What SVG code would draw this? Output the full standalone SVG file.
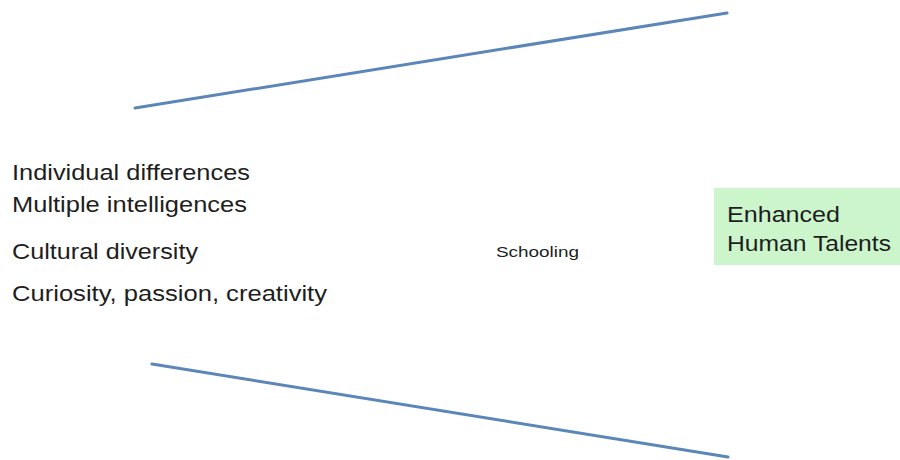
<svg xmlns="http://www.w3.org/2000/svg" width="900" height="460" viewBox="0 0 900 460">
  <style>
    .lbl { font-family: "Liberation Sans", Arial, sans-serif; font-size: 22px; fill: #1e1e1e; }
    .small { font-family: "Liberation Sans", Arial, sans-serif; font-size: 15px; fill: #1e1e1e; }
    .edge { stroke: #5d86b8; stroke-width: 3; stroke-linecap: round; fill: none; }
  </style>
  <rect width="900" height="460" fill="#ffffff"/>
  <g id="connectors">
    <line class="edge" x1="135" y1="108" x2="727" y2="13"/>
    <line class="edge" x1="152" y1="364" x2="728" y2="457"/>
  </g>
  <g id="inputs">
    <text class="lbl" x="12" y="180" textLength="238" lengthAdjust="spacingAndGlyphs">Individual differences</text>
    <text class="lbl" x="12" y="212" textLength="235" lengthAdjust="spacingAndGlyphs">Multiple intelligences</text>
    <text class="lbl" x="12" y="259" textLength="186" lengthAdjust="spacingAndGlyphs">Cultural diversity</text>
    <text class="lbl" x="12" y="301" textLength="315" lengthAdjust="spacingAndGlyphs">Curiosity, passion, creativity</text>
  </g>
  <g id="schooling">
    <text class="small" x="496" y="257" textLength="83" lengthAdjust="spacingAndGlyphs">Schooling</text>
  </g>
  <g id="outcome">
    <rect x="714" y="188" width="186" height="77" fill="#ccf5cc"/>
    <text class="lbl" x="727" y="222" textLength="113" lengthAdjust="spacingAndGlyphs">Enhanced</text>
    <text class="lbl" x="727" y="251" textLength="164" lengthAdjust="spacingAndGlyphs">Human Talents</text>
  </g>
</svg>
